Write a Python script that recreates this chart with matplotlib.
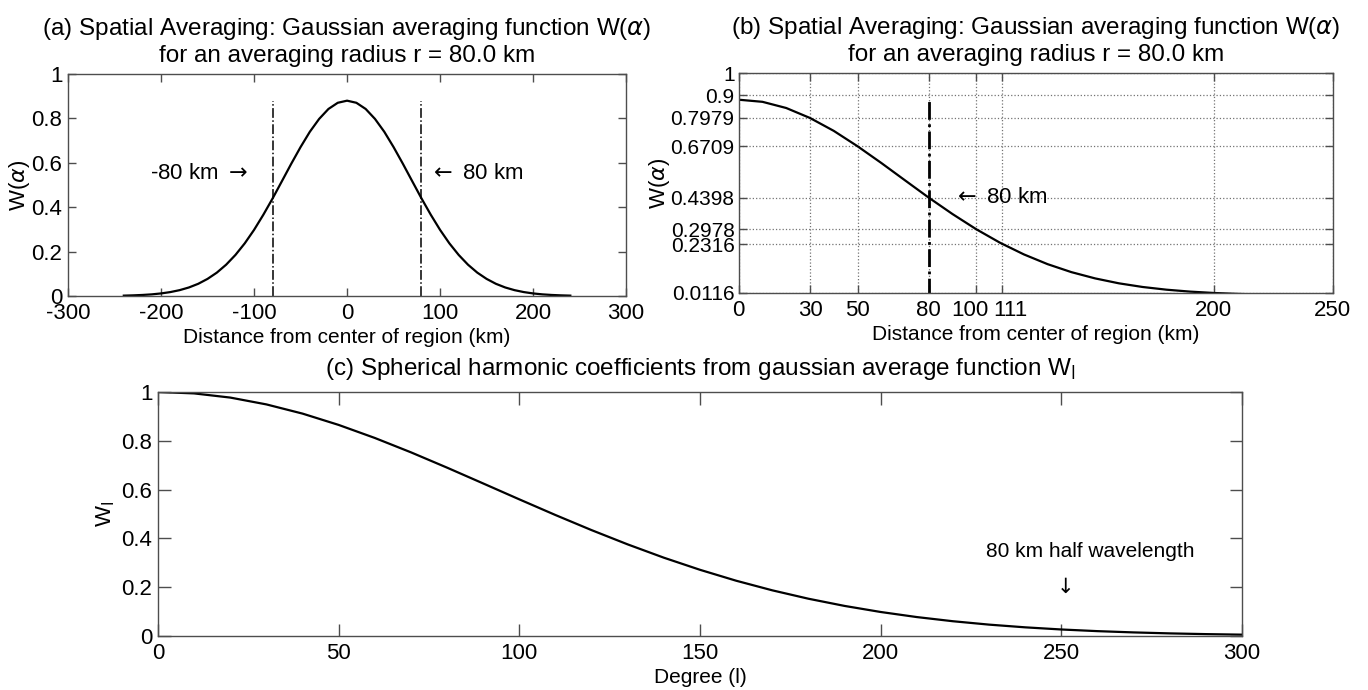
import matplotlib
matplotlib.use('Agg')
import matplotlib.pyplot as plt
import matplotlib.transforms as mtransforms
import numpy as np
from matplotlib.ticker import FormatStrFormatter

plt.rcParams['font.family'] = 'Liberation Sans'
plt.rcParams['mathtext.fontset'] = 'dejavusans'
plt.rcParams['axes.unicode_minus'] = False

# distance from center (km) and W(alpha)
dist_km = np.array([0, 10, 20, 30, 40, 50, 60, 70, 80, 90, 100, 110, 120, 130,
                    140, 150, 160, 170, 180, 190, 200, 210, 220, 230, 240, 250])
w_alpha = np.array([0.880, 0.8705, 0.8427, 0.7979, 0.7400, 0.6709, 0.5958, 0.5176,
                    0.4398, 0.3661, 0.2978, 0.2372, 0.1850, 0.1411, 0.1053, 0.0771,
                    0.0550, 0.0385, 0.0264, 0.0177, 0.0116, 0.0074, 0.0047, 0.0029,
                    0.0017, 0.0010])

# degree l and W_l
degree = np.arange(0, 301, 10)
w_l = np.array([1.000, 0.9942, 0.9771, 0.9491, 0.9114, 0.8650, 0.8116, 0.7527,
                0.6899, 0.6251, 0.5599, 0.4957, 0.4338, 0.3753, 0.3208, 0.2712,
                0.2265, 0.1871, 0.1527, 0.1232, 0.0983, 0.0775, 0.0604, 0.0465,
                0.0354, 0.0266, 0.0198, 0.0146, 0.0106, 0.0076, 0.0054])

radius = 80
w_at_r = 0.4398
w_peak = 0.88
b_yticks = [0.0116, 0.2316, 0.2978, 0.4398, 0.6709, 0.7979, 0.9, 1]
b_ylabels = ['0.0116', '0.2316', '0.2978', '0.4398', '0.6709', '0.7979', '0.9', '1']
b_xticks = [0, 30, 50, 80, 100, 111, 200, 250]

spine_c = '0.3'
fig = plt.figure(figsize=(13.68, 6.9), dpi=100)
ax1 = fig.add_axes([0.0497, 0.571, 0.408, 0.3217])
ax2 = fig.add_axes([0.540, 0.5754, 0.4342, 0.3188])
ax3 = fig.add_axes([0.1155, 0.0783, 0.7924, 0.3536])

def style(ax, ticklen):
    for s in ax.spines.values():
        s.set_color(spine_c)
        s.set_linewidth(1.0)
    ax.tick_params(direction='in', top=True, right=True, length=ticklen,
                   width=1.0, color=spine_c, labelsize=16, pad=5)
    ax.tick_params(axis='y', pad=4)

title_ab = ('W($\\alpha$)\nfor an averaging radius r = 80.0 km')

# (a)
mask = dist_km <= 240
xa = np.concatenate([-dist_km[mask][::-1], dist_km[mask][1:]])
ya = np.concatenate([w_alpha[mask][::-1], w_alpha[mask][1:]])
ax1.plot(xa, ya, color='black', lw=1.6)
for xv in (-radius, radius):
    ax1.plot([xv, xv], [0, w_peak], color='black', lw=1.1, linestyle='-.')
ax1.set_xlim(-300, 300)
ax1.set_ylim(0, 1)
ax1.set_xticks(np.arange(-300, 301, 100))
ax1.set_yticks(np.arange(0, 1.01, 0.2))
ax1.yaxis.set_major_formatter(FormatStrFormatter('%g'))
style(ax1, 6)
ax1.text(-106, 0.55, '-80 km $\\rightarrow$', ha='right', va='center', fontsize=16)
ax1.text(88, 0.55, '$\\leftarrow$ 80 km', ha='left', va='center', fontsize=16)
ax1.set_title('(a) Spatial Averaging: Gaussian averaging function ' + title_ab,
              fontsize=17.5, pad=9, linespacing=1.12)
ax1.set_xlabel('Distance from center of region (km)', fontsize=15, labelpad=3)
ax1.set_ylabel('W($\\alpha$)', fontsize=16)
ax1.yaxis.set_label_coords(-0.0645, 0.5)

# (b)
ax2.plot(dist_km, w_alpha, color='black', lw=1.6)
ax2.plot([radius, radius], [0, w_peak], color='black', lw=2.0, linestyle='-.')
ax2.set_xlim(0, 250)
ax2.set_ylim(0.0116, 1)
ax2.set_xticks(b_xticks)
ax2.set_yticks(b_yticks)
ax2.set_yticklabels(b_ylabels)
ax2.grid(True, linestyle=':', color='0.45', lw=0.9)
style(ax2, 6)
ax2.tick_params(axis='y', labelsize=15, pad=3)
# nudge the crowded 100 / 111 labels apart
for lab, dx in zip(ax2.get_xticklabels(), [0, 0, 0, 0, -6, 8, 0, 0]):
    if dx:
        lab.set_transform(lab.get_transform() +
                          mtransforms.ScaledTranslation(dx / 100, 0, fig.dpi_scale_trans))
ax2.text(radius + 10, w_at_r, '$\\leftarrow$ 80 km', ha='left', va='center', fontsize=16)
ax2.set_title('(b) Spatial Averaging: Gaussian averaging function ' + title_ab,
              fontsize=17.5, pad=9, linespacing=1.12)
ax2.set_xlabel('Distance from center of region (km)', fontsize=15, labelpad=3)
ax2.set_ylabel('W($\\alpha$)', fontsize=16)
ax2.yaxis.set_label_coords(-0.112, 0.5)

# (c)
ax3.plot(degree, w_l, color='black', lw=1.6)
ax3.set_xlim(0, 300)
ax3.set_ylim(0, 1)
ax3.set_xticks(np.arange(0, 301, 50))
ax3.set_yticks(np.arange(0, 1.01, 0.2))
ax3.yaxis.set_major_formatter(FormatStrFormatter('%g'))
style(ax3, 9)
ax3.text(258, 0.345, '80 km half wavelength', ha='center', va='center', fontsize=15)
ax3.text(250, 0.20, '$\\downarrow$', ha='center', va='center', fontsize=15)
ax3.set_title('(c) Spherical harmonic coefficients from gaussian average function W$_\\mathrm{l}$',
              fontsize=17.5, pad=12)
ax3.set_xlabel('Degree (l)', fontsize=15, labelpad=3)
ax3.set_ylabel('W$_\\mathrm{l}$', fontsize=16)
ax3.yaxis.set_label_coords(-0.0378, 0.5)

fig.savefig('out.png', dpi=100)
